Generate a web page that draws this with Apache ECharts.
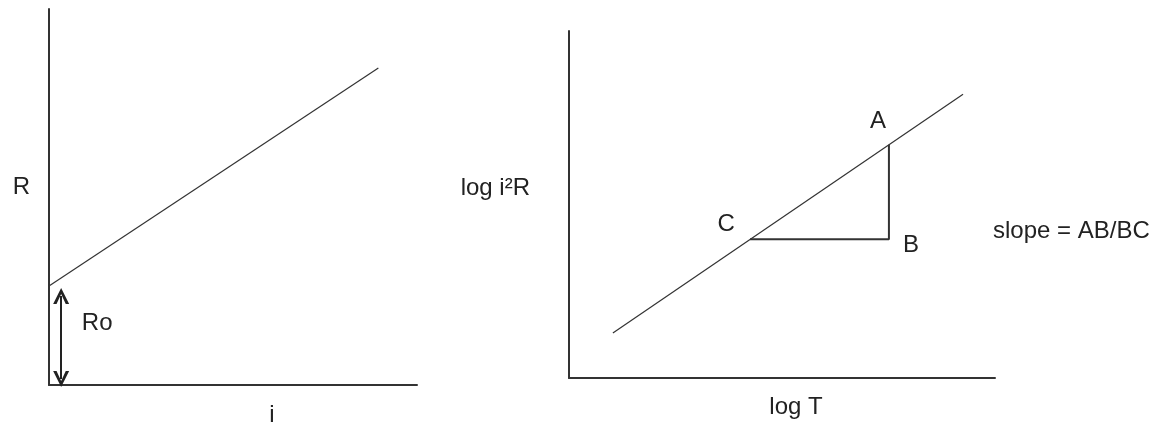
<!DOCTYPE html>
<html>
<head>
<meta charset="utf-8">
<script src="https://cdn.jsdelivr.net/npm/echarts@6/dist/echarts.min.js"></script>
<style>
  html, body { margin: 0; padding: 0; background: #fff; }
  #chart { width: 1157px; height: 424px; }
</style>
</head>
<body>
<div id="chart"></div>
<script>
// left plot: R against i
const currentI = [0, 89.5];
const resistR = [26.3, 84.3];
// Ro arrow (ends sit half an arrowhead inside the tips)
const roArrowI = [3.3, 3.3];
const roArrowR = [1.6, 23.7];
const roLabelPos = [3.3, 17.3];

// right plot: log i2R against log T
const logT = [10.3, 92.5];
const logI2R = [13.0, 81.8];
// triangle C -> B -> A
const triNames = ['C', 'B', 'A'];
const triT = [42.5, 75.1, 75.1];
const triY = [40.0, 40.0, 67.2];
const triLabelOffset = [[-24, -15], [22, 6], [-11, -23]];

const FONT = '"Liberation Sans", Arial, sans-serif';
const SIZE = 24;
const INK = '#222';

let chart = echarts.init(document.getElementById('chart'));

function plainAxis(grid, name, nameGap, textExtra) {
  return {
    type: 'value',
    gridIndex: grid,
    min: 0,
    max: 100,
    name: name,
    nameLocation: 'middle',
    nameRotate: 0,
    nameGap: nameGap,
    nameTextStyle: Object.assign({ fontFamily: FONT, fontSize: SIZE, color: INK }, textExtra),
    axisLine: { show: true, lineStyle: { color: '#333', width: 2 } },
    axisTick: { show: false },
    axisLabel: { show: false },
    splitLine: { show: false }
  };
}

const chevron = 'path://M0,16 L8,0 L16,16 L12.6,16 L8,6 L3.4,16 Z';

let option = {
  animation: false,
  backgroundColor: '#fff',
  title: {
    text: 'slope = AB/BC',
    left: 993,
    top: 219,
    padding: 0,
    textStyle: { fontFamily: FONT, fontSize: SIZE, fontWeight: 'normal', color: INK }
  },
  grid: [
    { left: 49, top: 9, width: 368, height: 376, outerBoundsMode: 'none' },
    { left: 569, top: 31, width: 426, height: 347, outerBoundsMode: 'none' }
  ],
  xAxis: [
    plainAxis(0, 'i', 18, { padding: [0, 0, 0, 78] }),
    plainAxis(1, 'log T', 17, { padding: [0, 0, 0, 28] })
  ],
  yAxis: [
    plainAxis(0, 'R', 19, { verticalAlign: 'bottom', lineHeight: 20 }),
    plainAxis(1, 'log i²R', 39, { verticalAlign: 'bottom', lineHeight: 33 })
  ],
  series: [
    {
      type: 'line',
      xAxisIndex: 0,
      yAxisIndex: 0,
      symbol: 'none',
      silent: true,
      lineStyle: { color: '#333', width: 1.2 },
      data: currentI.map((v, k) => [v, resistR[k]]),
      markLine: {
        silent: true,
        symbol: [chevron, chevron],
        symbolSize: [16, 16],
        label: { show: false },
        itemStyle: { color: INK },
        lineStyle: { color: INK, width: 2, type: 'solid' },
        data: [[{ coord: [roArrowI[0], roArrowR[0]] }, { coord: [roArrowI[1], roArrowR[1]] }]]
      }
    },
    {
      type: 'scatter',
      xAxisIndex: 0,
      yAxisIndex: 0,
      symbolSize: 1,
      itemStyle: { color: 'transparent', opacity: 1 },
      silent: true,
      label: {
        show: true,
        position: 'inside',
        offset: [36, 3],
        formatter: 'Ro',
        fontFamily: FONT,
        fontSize: SIZE,
        color: INK
      },
      data: [roLabelPos]
    },
    {
      type: 'line',
      xAxisIndex: 1,
      yAxisIndex: 1,
      symbol: 'none',
      silent: true,
      lineStyle: { color: '#333', width: 1.2 },
      data: logT.map((v, k) => [v, logI2R[k]])
    },
    {
      type: 'line',
      xAxisIndex: 1,
      yAxisIndex: 1,
      symbol: 'none',
      silent: true,
      lineStyle: { color: '#333', width: 2 },
      data: triT.map((v, k) => [v, triY[k]])
    },
    {
      type: 'scatter',
      xAxisIndex: 1,
      yAxisIndex: 1,
      symbolSize: 1,
      itemStyle: { color: 'transparent', opacity: 1 },
      silent: true,
      data: triT.map((v, k) => ({
        value: [v, triY[k]],
        name: triNames[k],
        label: {
          show: true,
          position: 'inside',
          offset: triLabelOffset[k],
          formatter: triNames[k],
          fontFamily: FONT,
          fontSize: SIZE,
          color: INK
        }
      }))
    }
  ]
};

option && chart.setOption(option);
</script>
</body>
</html>
